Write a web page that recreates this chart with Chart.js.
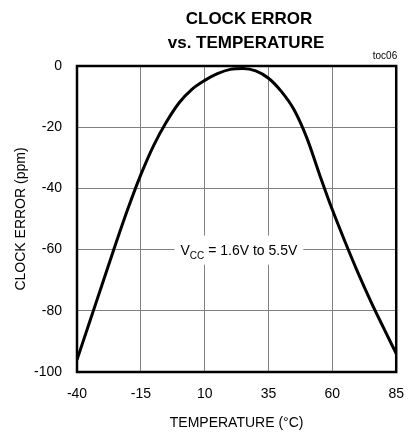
<!DOCTYPE html>
<html>
<head>
<meta charset="utf-8">
<script src="https://cdn.jsdelivr.net/npm/chart.js@4/dist/chart.umd.min.js"></script>
<style>
html,body{margin:0;padding:0;background:#fff;}
#wrap{width:418px;height:435px;position:relative;}
</style>
</head>
<body>
<div id="wrap"><canvas id="c" width="418" height="435"></canvas></div>
<script>
const titleLines = ["CLOCK ERROR", "vs. TEMPERATURE"];
const xTicks = [-40, -15, 10, 35, 60, 85];
const yTicks = [0, -20, -40, -60, -80, -100];
const temperature = [-40, -35, -30, -25, -20, -15, -10, -5, 0, 5, 10, 15, 20, 25, 30, 35, 40, 45, 50, 55, 60, 65, 70, 75, 80, 85];
const clockError = [-96, -83.5, -71, -58.5, -46.5, -35.5, -26, -18.3, -12, -7.6, -4.7, -2.5, -1.1, -0.8, -1.6, -4, -8.3, -14.3, -23.5, -35.5, -47, -57.5, -67.5, -76.8, -85.5, -94];
const noteMain = "V";
const noteSub = "CC";
const noteRest = " = 1.6V to 5.5V";
const tocLabel = "toc06";

const FONT = "'Liberation Sans', Arial, sans-serif";

const points = temperature.map((t, i) => ({x: t, y: clockError[i]}));

const decor = {
  id: 'decor',
  beforeDatasetsDraw(chart) {
    const ctx = chart.ctx;
    const xs = chart.scales.x, ys = chart.scales.y;
    const cx = xs.getPixelForValue(23.4);
    const cy = ys.getPixelForValue(-60);
    ctx.save();
    ctx.font = "14px " + FONT;
    const w1 = ctx.measureText(noteMain).width;
    ctx.font = "10px " + FONT;
    const w2 = ctx.measureText(noteSub).width;
    ctx.font = "14px " + FONT;
    const w3 = ctx.measureText(noteRest).width;
    const tw = w1 + w2 + w3;
    const left = cx - tw / 2;
    ctx.fillStyle = '#fff';
    ctx.fillRect(left - 6, cy - 14, tw + 12, 29);
    ctx.fillStyle = '#000';
    ctx.textBaseline = 'alphabetic';
    ctx.textAlign = 'left';
    ctx.fillText(noteMain, left, cy + 5);
    ctx.font = "10px " + FONT;
    ctx.fillText(noteSub, left + w1, cy + 9);
    ctx.font = "14px " + FONT;
    ctx.fillText(noteRest, left + w1 + w2, cy + 5);
    ctx.restore();
  },
  afterDraw(chart) {
    const ctx = chart.ctx;
    const a = chart.chartArea;
    ctx.save();
    ctx.strokeStyle = '#000';
    ctx.lineWidth = 2.5;
    ctx.strokeRect(a.left, a.top, a.right - a.left, a.bottom - a.top);
    ctx.fillStyle = '#000';
    ctx.textAlign = 'center';
    ctx.textBaseline = 'alphabetic';
    ctx.font = "bold 17px " + FONT;
    ctx.fillText(titleLines[0], 249, 24);
    ctx.fillText(titleLines[1], 246, 48);
    ctx.font = "10px " + FONT;
    ctx.textAlign = 'right';
    ctx.fillText(tocLabel, a.right + 1, 59);
    ctx.restore();
  }
};

new Chart(document.getElementById('c'), {
  type: 'scatter',
  data: {
    datasets: [{
      data: points,
      showLine: true,
      borderColor: '#000',
      borderWidth: 3,
      pointRadius: 0,
      cubicInterpolationMode: 'monotone',
      fill: false
    }]
  },
  options: {
    responsive: false,
    animation: false,
    devicePixelRatio: 1,
    layout: {padding: {left: 0, right: 12, top: 66, bottom: 0}},
    plugins: {legend: {display: false}, tooltip: {enabled: false}, title: {display: false}},
    scales: {
      x: {
        type: 'linear',
        min: -40, max: 85,
        afterBuildTicks(s) { s.ticks = xTicks.map(v => ({value: v})); },
        afterFit(s) { s.height = 63; },
        grid: {color: '#808080', lineWidth: 1, drawTicks: false},
        border: {display: false},
        ticks: {color: '#000', font: {family: FONT, size: 14}, padding: 14, maxRotation: 0},
        title: {display: true, text: 'TEMPERATURE (°C)', color: '#000', font: {family: FONT, size: 14}, padding: {top: 0, bottom: 3}}
      },
      y: {
        type: 'linear',
        min: -100, max: 0,
        afterBuildTicks(s) { s.ticks = yTicks.map(v => ({value: v})); },
        afterFit(s) { s.width = 77; },
        grid: {color: '#808080', lineWidth: 1, drawTicks: false},
        border: {display: false},
        ticks: {color: '#000', font: {family: FONT, size: 14}, padding: 15},
        title: {display: true, text: 'CLOCK ERROR (ppm)', color: '#000', font: {family: FONT, size: 14}, padding: {top: 13, bottom: 0}}
      }
    }
  },
  plugins: [decor]
});
</script>
</body>
</html>
